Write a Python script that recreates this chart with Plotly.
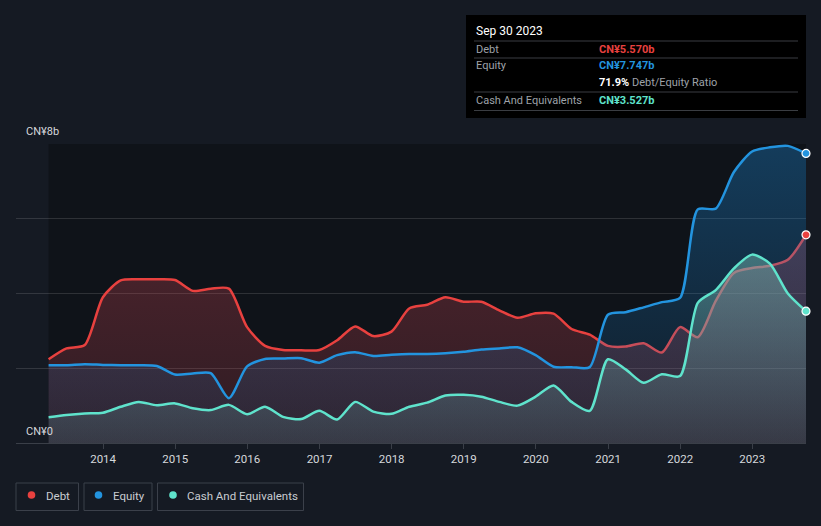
import pandas as pd
import plotly.graph_objects as go

# ---- data (CN¥ billions, quarterly) ----
dates = pd.date_range("2013-03-31", "2023-09-30", freq="QE")
debt = [2.24, 2.53, 2.62, 3.9, 4.35, 4.38, 4.38, 4.36, 4.07, 4.13,
        4.13, 3.1, 2.6, 2.49, 2.48, 2.49, 2.75, 3.12, 2.86, 2.98,
        3.6, 3.7, 3.9, 3.78, 3.78, 3.55, 3.35, 3.47, 3.46, 3.05,
        2.9, 2.6, 2.58, 2.67, 2.42, 3.1, 2.83, 3.8, 4.55, 4.68,
        4.74, 4.9, 5.57]
equity = [2.08, 2.08, 2.11, 2.09, 2.08, 2.08, 2.06, 1.83, 1.86, 1.87,
          1.2, 2.05, 2.25, 2.26, 2.27, 2.15, 2.35, 2.43, 2.33, 2.36,
          2.38, 2.38, 2.4, 2.44, 2.5, 2.53, 2.56, 2.35, 2.04, 2.03,
          2.03, 3.43, 3.5, 3.63, 3.77, 3.88, 6.25, 6.27, 7.25, 7.8,
          7.91, 7.95, 7.747]
cash = [0.69, 0.75, 0.79, 0.81, 0.97, 1.10, 1.01, 1.06, 0.93, 0.88,
        1.02, 0.77, 0.97, 0.70, 0.64, 0.86, 0.63, 1.10, 0.84, 0.78,
        0.97, 1.08, 1.27, 1.29, 1.24, 1.10, 1.00, 1.24, 1.54, 1.10,
        0.86, 2.24, 1.97, 1.61, 1.84, 1.79, 3.75, 4.09, 4.67, 5.04,
        4.80, 4.0, 3.527]
year_ticks = ["2014", "2015", "2016", "2017", "2018", "2019", "2020", "2021", "2022", "2023"]
y_labels = ["CN¥0", "CN¥8b"]
tooltip_date = "Sep 30 2023"
tooltip_debt = "CN¥5.570b"
tooltip_equity = "CN¥7.747b"
tooltip_ratio = "71.9%"
tooltip_cash = "CN¥3.527b"
series_names = ["Debt", "Equity", "Cash And Equivalents"]

RED = "#e8413f"
BLUE = "#2394df"
TEAL = "#5fe3cc"
BG = "#151a23"
FONT = "Roboto"

W, H = 821, 526
L, R, T, B = 16, 806, 144, 443


def px(x):
    return (x - L) / (R - L)


def py(y):
    return (B - y) / (B - T)


fig = go.Figure()

fig.add_trace(go.Scatter(
    x=dates, y=debt, mode="lines", name=series_names[0],
    line=dict(color=RED, width=2.5, shape="spline", smoothing=0.7),
    fill="tozeroy",
    fillgradient=dict(type="vertical", start=0, stop=5.6,
                      colorscale=[[0, "rgba(220,75,90,0.15)"], [1, "rgba(220,75,90,0.30)"]]),
    hoverinfo="skip"))
fig.add_trace(go.Scatter(
    x=dates, y=equity, mode="lines", name=series_names[1],
    line=dict(color=BLUE, width=2.5, shape="spline", smoothing=0.7),
    fill="tozeroy",
    fillgradient=dict(type="vertical", start=0, stop=8,
                      colorscale=[[0, "rgba(30,140,220,0.08)"], [1, "rgba(30,140,220,0.34)"]]),
    hoverinfo="skip"))
fig.add_trace(go.Scatter(
    x=dates, y=cash, mode="lines", name=series_names[2],
    line=dict(color=TEAL, width=2.5, shape="spline", smoothing=0.7),
    fill="tozeroy",
    fillgradient=dict(type="vertical", start=0, stop=5.1,
                      colorscale=[[0, "rgba(110,170,175,0.16)"], [1, "rgba(120,190,180,0.47)"]]),
    hoverinfo="skip"))

# end markers
for ser, col in [(debt, RED), (equity, BLUE), (cash, TEAL)]:
    fig.add_trace(go.Scatter(
        x=[dates[-1]], y=[ser[-1]], mode="markers",
        marker=dict(size=8, color=col, line=dict(color="white", width=1.2)),
        cliponaxis=False, hoverinfo="skip", showlegend=False))

shapes = []
# darker data region
shapes.append(dict(type="rect", xref="x", yref="y domain", x0=dates[0], x1=dates[-1], y0=0, y1=1,
                   fillcolor="#0f1319", line=dict(width=0), layer="below"))

annotations = []
# y labels
annotations.append(dict(x=px(24), y=py(431), xref="paper", yref="paper", text=y_labels[0],
                        showarrow=False, xanchor="left", yanchor="middle",
                        font=dict(family=FONT, size=11, color="#d5d8dc")))
annotations.append(dict(x=px(24), y=py(131), xref="paper", yref="paper", text=y_labels[1],
                        showarrow=False, xanchor="left", yanchor="middle",
                        font=dict(family=FONT, size=11, color="#d5d8dc")))

# tooltip box
shapes.append(dict(type="rect", xref="paper", yref="paper", x0=px(466), x1=px(806), y0=py(118), y1=py(15),
                   fillcolor="#000000", line=dict(width=0), layer="above"))
for yy in [41, 58, 92, 110.5]:
    shapes.append(dict(type="line", xref="paper", yref="paper", x0=px(474), x1=px(798), y0=py(yy), y1=py(yy),
                       line=dict(color="#3a3d42", width=1), layer="above"))


def tip(x, y, text, color, size=11):
    annotations.append(dict(x=px(x), y=py(y), xref="paper", yref="paper", text=text, showarrow=False,
                            xanchor="left", yanchor="middle", font=dict(family=FONT, size=size, color=color)))


tip(474, 31, tooltip_date, "#ffffff", 12)
tip(474, 49, series_names[0], "#9ea2a8")
tip(597, 49, "<b>" + tooltip_debt + "</b>", RED)
tip(474, 66, series_names[1], "#9ea2a8")
tip(597, 66, "<b>" + tooltip_equity + "</b>", BLUE)
tip(597, 83, "<b>" + tooltip_ratio + "</b> <span style='color:#9ea2a8'>Debt/Equity Ratio</span>", "#ffffff")
tip(474, 100, series_names[2], "#9ea2a8")
tip(597, 100, "<b>" + tooltip_cash + "</b>", TEAL)

# legend boxes
legend_boxes = [(16, 78.5, 31.5, 44), (84, 152, 98.5, 111), (157.5, 303.5, 173, 185)]
for (x0, x1, dx, tx), name, col in zip(legend_boxes, series_names, [RED, BLUE, TEAL]):
    shapes.append(dict(type="rect", xref="paper", yref="paper", x0=px(x0), x1=px(x1), y0=py(510.5), y1=py(483),
                       fillcolor="rgba(0,0,0,0)", line=dict(color="#3b404a", width=1), layer="above"))
    shapes.append(dict(type="circle", xref="paper", yref="paper", x0=px(dx - 3.8), x1=px(dx + 3.8),
                       y0=py(495 + 3.8), y1=py(495 - 3.8), fillcolor=col, line=dict(width=0), layer="above"))
    annotations.append(dict(x=px(tx), y=py(495.5), xref="paper", yref="paper", text=name, showarrow=False,
                            xanchor="left", yanchor="middle",
                            font=dict(family=FONT, size=11.5, color="#c9ccd1")))

fig.update_layout(
    width=W, height=H,
    margin=dict(l=L, r=W - R, t=T, b=H - B),
    paper_bgcolor=BG, plot_bgcolor=BG,
    showlegend=False,
    shapes=shapes, annotations=annotations,
    xaxis=dict(type="date", range=["2012-10-17", "2023-09-30"],
               tickvals=[f"{y}-01-01" for y in year_ticks], ticktext=year_ticks,
               ticks="outside", ticklen=5, tickcolor="#3a3f48", showgrid=False,
               showline=True, linecolor="#3a3f48", linewidth=1,
               tickfont=dict(family=FONT, size=11.5, color="#d5d8dc"), fixedrange=True),
    yaxis=dict(range=[0, 8], dtick=2, showticklabels=False, showgrid=True,
               gridcolor="rgba(255,255,255,0.13)", gridwidth=1, zeroline=False, fixedrange=True),
)

fig.write_html("out.html", config={"displayModeBar": False},
               post_script="document.body.style.margin='0';document.body.style.background='%s';" % BG)
